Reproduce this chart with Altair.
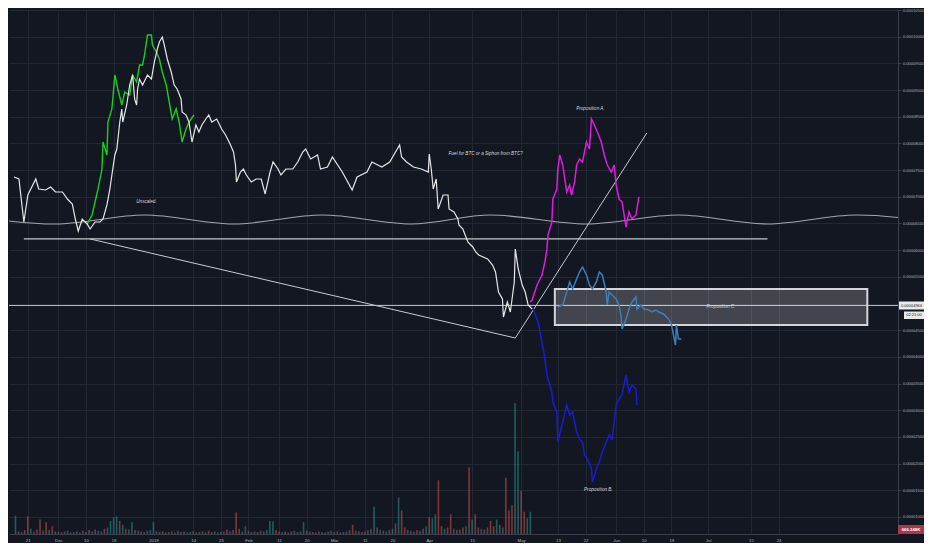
import altair as alt
import pandas as pd

# ---------------- data (days since 2019-01-01, prices in satoshi) ----------------
white_day = [-45.49,-43.88,-42.27,-40.97,-38.39,-37.43,-35.17,-33.55,-31.94,-29.68,
             -28.07,-26.46,-25.49,-24.52,-23.23,-21.62,-20.65,-19.04,-17.42,-16.45,
             -15.16,-14.20,-13.55,-12.58,-11.94,-10.97,-10.32,-10.00,-8.71,-7.74,
             -6.78,-6.13,-5.48,-5.16,-4.52,-3.55,-1.94,-0.65,0.32,1.29,
             1.94,2.90,3.55,4.52,5.81,6.78,7.74,9.03,9.36,10.65,
             11.61,12.58,13.87,14.84,15.81,17.10,18.07,19.04,20.65,22.26,
             23.55,25.17,26.13,26.78,27.10,28.39,29.36,30.33,31.94,33.55,
             35.17,36.46,38.07,39.04,40.65,41.62,43.23,45.49,47.10,48.72,
             49.69,51.30,53.56,54.52,56.78,58.40,61.62,64.85,66.46,69.69,
             71.30,74.53,77.11,79.37,80.34,80.98,82.59,84.85,87.43,89.69,
             90.01,90.66,91.30,92.27,92.92,94.53,96.14,96.47,98.08,99.37,
             99.69,100.98,102.60,103.56,104.21,105.18,106.15,109.05,110.66,111.63,
             112.60,113.89,114.21,115.50,116.47,117.76,118.08,119.05,120.34,121.31,
             122.28,123.57]
white_sats = [7370,7333,6527,7033,7333,7146,7127,7183,7089,7089,
              6958,6864,6583,6358,6583,6490,6396,6527,6527,6583,
              6846,7146,7408,7783,7895,8401,8645,8401,8720,9094,
              9282,8832,8720,9020,9207,9094,9282,9207,9526,9769,
              9900,9994,9844,9582,9338,9094,9020,8832,8589,8532,
              8401,8026,8345,8214,8345,8457,8532,8401,8457,8270,
              8157,7970,7839,7595,7277,7464,7520,7408,7277,7333,
              7333,7052,7464,7652,7520,7408,7520,7520,7652,7839,
              7895,7708,7783,7520,7558,7745,7464,7127,7370,7464,
              7652,7558,7652,7876,7970,7745,7652,7558,7520,7464,
              7801,7520,7146,7333,6771,7033,7033,6771,6715,6583,
              6471,6396,6152,6096,6059,5965,5909,5834,5721,5590,
              5215,5084,4747,5028,4841,5403,6021,5646,5346,5215,
              4972,4897]

green_day = [-21.62,-20.01,-19.04,-18.07,-16.78,-16.45,-15.16,-14.84,-13.55,-12.58,
             -11.61,-10.32,-9.36,-7.74,-6.78,-5.48,-4.52,-3.55,-2.90,-1.94,
             -0.65,-0.32,0.97,1.94,2.90,4.19,5.16,6.13,7.42,8.39,
             9.36,10.65,11.61,13.23]
green_sats = [6490,6658,6902,7146,7520,8026,7783,8401,8645,9282,
              9020,8720,8963,8907,9282,9151,9469,9469,9657,10031,
              10031,9844,9713,9582,9338,9094,8776,8457,8645,8401,
              8026,8270,8401,8532]

propA_day = [122.92,123.57,125.18,126.79,127.76,128.41,128.73,130.02,130.35,131.64,
             131.96,132.61,133.57,134.86,135.83,136.47,137.44,138.09,139.05,140.02,
             141.31,142.28,142.93,143.89,144.86,146.15,147.12,148.09,149.38,150.35,
             150.99,151.96,152.93,154.22,155.19,156.16,157.45,158.41]
propA_sats = [5028,5065,5346,5534,5778,6021,6283,6527,6958,7146,
              7520,7783,7595,7089,7220,7033,7277,7595,7708,7652,
              8026,7895,8457,8345,8214,8026,7783,7595,7464,7595,
              7220,6958,6902,6433,6715,6583,6658,6996]

propB_day = [123.89,125.51,126.79,127.76,128.41,130.02,130.35,131.64,131.96,133.57,
             134.86,135.83,136.79,138.09,139.05,140.02,140.67,141.63,142.93,143.25,
             144.54,145.51,146.48,147.76,148.73,149.70,150.99,151.96,152.93,154.22,
             155.19,156.16,157.45,157.77]
propB_sats = [4897,4653,4278,3960,3660,3341,3154,2967,2404,2779,
              3098,2910,2967,2592,2461,2404,2161,2086,1898,1655,
              1898,2030,2217,2404,2535,2461,3098,3210,3285,3660,
              3341,3472,3398,3098]

propC_day = [131.96,133.57,134.86,135.83,136.79,138.09,139.05,140.02,141.31,142.28,
             143.25,144.54,145.51,146.48,147.76,148.09,148.73,149.70,150.99,151.96,
             152.61,152.93,154.22,155.19,156.16,157.45,157.77,159.06,160.03,161.64,
             162.61,163.90,164.87,166.48,168.09,169.06,170.35,170.67,171.32,172.28]
propC_sats = [4934,4972,5215,5403,5272,5459,5590,5684,5534,5346,
              5272,5403,5590,5534,5215,4972,5215,5159,5084,4972,
              4747,4522,4709,4897,5028,5122,4897,4972,4897,4878,
              4841,4878,4841,4803,4709,4597,4222,4597,4335,4335]

wave_day = [-60.98,-31.94,-2.90,26.13,55.17,84.21,110.02,141.31,171.32,200.36,229.39,258.43]
wave_sats = [6658,6490,6658,6490,6658,6490,6658,6490,6658,6490,6658,6490]

hline_day = [-42.27, 200.36]
hline_sats = [6209, 6209]
trend1_day = [-20.65, 118.08]
trend1_sats = [6209, 4353]
trend2_day = [118.08, 160.99]
trend2_sats = [4353, 8195]
last_price_sats = 4964

box_day = [130.99, 232.95]
box_sats = [5272, 4597]

note_text = ["Unscaled.", "Fuel for BTC or a Siphon from BTC?", "Proposition A.",
             "Proposition B.", "Proposition C."]
note_day = [-2.26, 108.40, 142.60, 145.18, 185.19]
note_sats = [6902, 7801, 8645, 1505, 4934]

# daily volume (thousands), first bar on day -45
volume_k = [1400,200,150,300,1350,400,200,350,1100,250,
            900,300,600,200,150,120,200,250,120,150,
            200,120,250,150,300,200,350,250,200,400,
            500,1000,1300,1350,1000,700,400,350,900,300,
            250,200,150,250,300,900,200,150,200,120,
            150,200,120,250,150,200,120,150,200,120,
            150,200,120,250,150,200,120,150,200,350,
            200,300,1650,400,200,600,250,150,200,150,
            250,200,300,1000,950,300,200,150,200,120,
            200,250,150,200,900,250,200,150,120,200,
            150,120,200,250,150,200,120,150,200,300,
            700,250,200,150,200,300,400,2100,500,300,
            250,200,300,400,800,2800,1800,500,300,250,
            200,300,250,400,600,1300,1200,1500,4100,600,
            400,500,1500,400,300,350,500,600,5100,1100,
            1500,500,400,350,500,1000,600,1100,700,500,
            4300,1800,2200,10000,6300,3300,1700,1200,1700]
volume_dir = list("ududdudddu" "dududududd" "uddududuud" "uuuududuud" "ududuududu"
                  "dududduudd" "ududdududd" "uddduududu" "duuuuddudu" "duduududud"
                  "ududududud" "dududududu" "dudududdud" "udududuudd" "uddudududu"
                  "ddududdudu" "ddduudduu")

tick_dates = ["2018-11-21","2018-12-01","2018-12-10","2018-12-19","2019-01-01","2019-01-14",
              "2019-01-23","2019-02-01","2019-02-11","2019-02-20","2019-03-01","2019-03-11",
              "2019-03-20","2019-04-01","2019-04-15","2019-05-01","2019-05-13","2019-05-22",
              "2019-06-01","2019-06-10","2019-06-19","2019-07-01","2019-07-15","2019-07-24"]
# 0.00005000 is hidden behind the last-price tag in the reference
y_ticks = [0.00001000,0.00001500,0.00002000,0.00002500,0.00003000,0.00003500,0.00004000,
           0.00004500,0.00005500,0.00006000,0.00006500,0.00007000,0.00007500,
           0.00008000,0.00008500,0.00009000,0.00009500,0.00010000,0.00010500]

# ---------------- helpers ----------------
BASE_MS = int(pd.Timestamp("2019-01-01", tz="UTC").value // 10**6)
DAY_MS = 86400000
W, H = 889, 524


def to_ms(d):
    return BASE_MS + int(round(d * DAY_MS))


def series(days, sats):
    return pd.DataFrame({"t": [to_ms(d) for d in days], "price": [s * 1e-8 for s in sats]})


BG = "#131722"
GRID = "#232734"
AXC = "#3b3f4c"
LBL = "#b2b5be"
FONT = "Liberation Sans"

x_domain = [to_ms(-45.49), to_ms(241.33)]
tick_ms = [int(pd.Timestamp(s, tz="UTC").value // 10**6) for s in tick_dates]

x_axis = alt.Axis(values=tick_ms,
                  labelExpr="utcdate(datum.value) == 1 ? (utcmonth(datum.value) == 0 ? utcFormat(datum.value, '%Y') : utcFormat(datum.value, '%b')) : utcFormat(datum.value, '%d')",
                  grid=True, gridColor=GRID, gridWidth=1, domainColor=AXC, ticks=False,
                  labelColor=LBL, labelFontSize=4.3, labelFont=FONT, labelPadding=4,
                  labelFlush=False, labelOverlap=False)
X = alt.X("t:T", scale=alt.Scale(type="utc", domain=x_domain, nice=False), axis=x_axis, title=None)

y_axis = alt.Axis(orient="right", values=y_ticks, format=".8f", grid=True, gridColor=GRID,
                  gridWidth=1, domainColor=AXC, tickColor=AXC, tickSize=3, labelColor=LBL,
                  labelFontSize=4, labelFont=FONT, labelPadding=1.5, labelOverlap=False,
                  labelFlush=False)
Y = alt.Y("price:Q", scale=alt.Scale(domain=[0.0000068, 0.000105], nice=False, zero=False),
          axis=y_axis, title=None)


def line(days, sats, color, width, **kw):
    return alt.Chart(series(days, sats)).mark_line(color=color, strokeWidth=width, clip=True, **kw).encode(x=X, y=Y)


wave = line(wave_day, wave_sats, "#a4a6ad", 1.1, interpolate="monotone")
hline = line(hline_day, hline_sats, "#c9cacf", 1.2)
trend1 = line(trend1_day, trend1_sats, "#c9cacf", 1.0)
trend2 = line(trend2_day, trend2_sats, "#c9cacf", 1.0)

cur = alt.Chart(pd.DataFrame({"price": [last_price_sats * 1e-8]})).mark_rule(
    color="#c8cad0", strokeWidth=1).encode(y=Y)

box_df = pd.DataFrame({"t": [to_ms(box_day[0])], "t2": [to_ms(box_day[1])],
                       "price": [box_sats[0] * 1e-8], "p2": [box_sats[1] * 1e-8]})
box = alt.Chart(box_df).mark_rect(fill="#ffffff", fillOpacity=0.2, stroke="#d4d5da",
                                  strokeWidth=2).encode(x=X, x2="t2", y=Y, y2="p2")

green = line(green_day, green_sats, "#14d21a", 1.4)
white = line(white_day, white_sats, "#e6e6e6", 1.2)
propA = line(propA_day, propA_sats, "#e11ae1", 1.5)
propB = line(propB_day, propB_sats, "#1b1bd6", 1.5)
propC = line(propC_day, propC_sats, "#3f7fb8", 1.5)

notes_df = series(note_day, note_sats).assign(label=note_text)
notes = alt.Chart(notes_df).mark_text(font=FONT, fontSize=4.6, fontStyle="italic",
                                      color="#d9dade").encode(x=X, y=Y, text="label:N")

one = pd.DataFrame({"k": [0]})
tag1_box = alt.Chart(one).mark_rect(fill="#e9eaec").encode(
    x=alt.value(W + 1), x2=alt.value(W + 26), y=alt.value(291.5), y2=alt.value(299.5))
tag1_txt = alt.Chart(one).mark_text(font=FONT, fontSize=4, color="#131722").encode(
    x=alt.value(W + 13.5), y=alt.value(295.7), text=alt.value("0.00004964"))
tag2_box = alt.Chart(one).mark_rect(fill="#e9eaec").encode(
    x=alt.value(W + 6), x2=alt.value(W + 26), y=alt.value(301.5), y2=alt.value(309))
tag2_txt = alt.Chart(one).mark_text(font=FONT, fontSize=4, color="#131722").encode(
    x=alt.value(W + 16), y=alt.value(305.4), text=alt.value("02:21:00"))
tag3_box = alt.Chart(one).mark_rect(fill="#a8394a").encode(
    x=alt.value(W), x2=alt.value(W + 26), y=alt.value(H - 9), y2=alt.value(H))
tag3_txt = alt.Chart(one).mark_text(font=FONT, fontSize=4.3, fontWeight="bold", color="#ffffff").encode(
    x=alt.value(W + 13), y=alt.value(H - 4.3), text=alt.value("666.248K"))

vol_df = pd.DataFrame([{"t": to_ms(-45 + i), "vol": v, "dir": d}
                       for i, (v, d) in enumerate(zip(volume_k, volume_dir))])
volume = alt.Chart(vol_df).mark_bar(size=1.6, opacity=0.5).encode(
    x=X,
    y=alt.Y("vol:Q", scale=alt.Scale(domain=[0, 40000]), axis=None),
    color=alt.Color("dir:N", scale=alt.Scale(domain=["u", "d"], range=["#26a69a", "#ef5350"]),
                    legend=None),
)

price_layers = alt.layer(wave, hline, trend1, trend2, cur, box, green, white, propC, propB, propA,
                         notes, tag1_box, tag1_txt, tag2_box, tag2_txt, tag3_box, tag3_txt)

chart = alt.layer(volume, price_layers).resolve_scale(y="independent").properties(
    width=W, height=H, background=BG,
    padding={"left": 0, "top": 0, "right": 0, "bottom": 0},
).configure_view(stroke="transparent")

chart.save("out.html", embed_options={"renderer": "svg", "actions": False})
